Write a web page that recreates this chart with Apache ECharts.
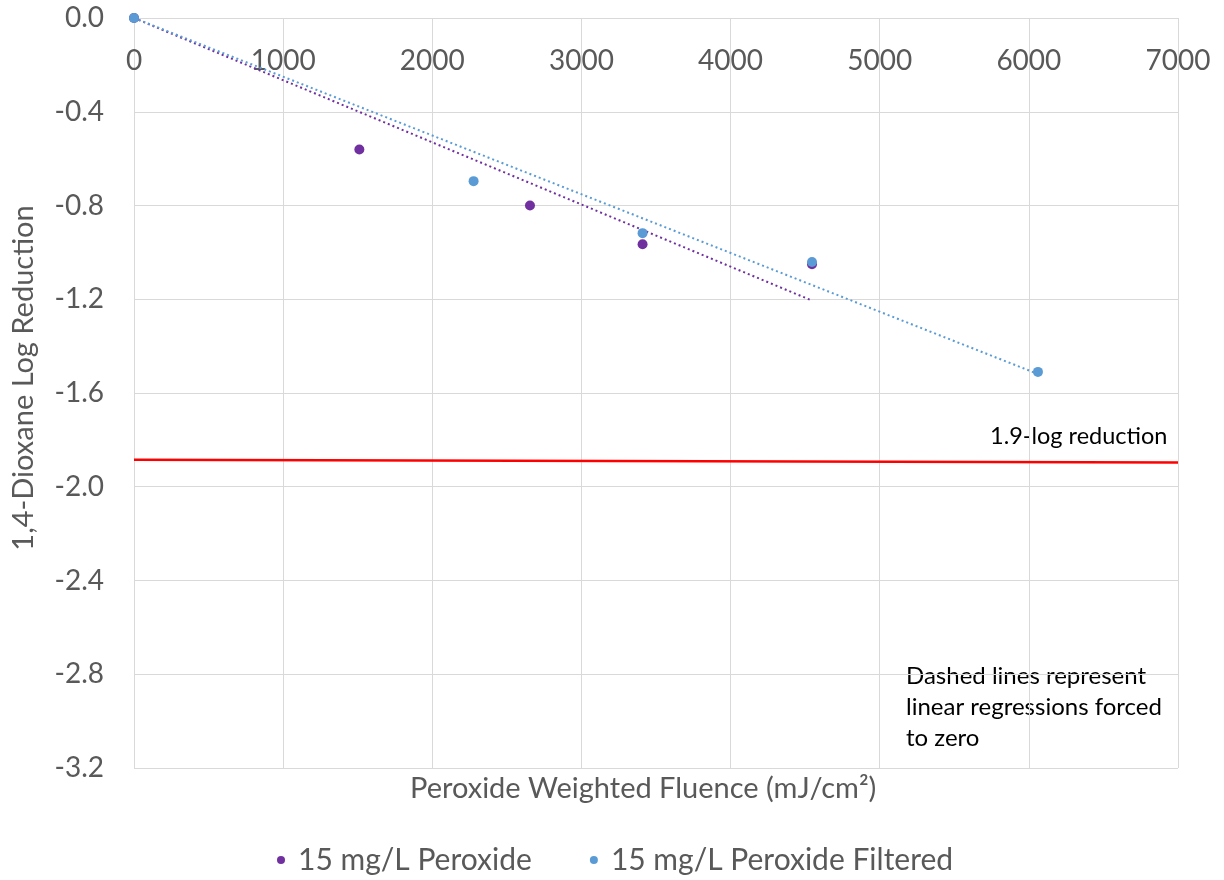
<!DOCTYPE html>
<html>
<head>
<meta charset="utf-8">
<title>1,4-Dioxane Log Reduction vs Peroxide Weighted Fluence</title>
<script src="https://cdn.jsdelivr.net/npm/echarts@6/dist/echarts.min.js"></script>
<style>
  html, body { margin: 0; padding: 0; background: #ffffff; }
  #chart { width: 1224px; height: 880px; }
</style>
</head>
<body>
<div id="chart"></div>
<script>
// Measured log reduction of 1,4-dioxane against peroxide-weighted fluence (mJ/cm²)
const peroxideFluence  = [0, 1511, 2655, 3410, 4546];
const peroxideLogRed   = [0, -0.561, -0.800, -0.965, -1.051];
const filteredFluence  = [0, 2277, 3410, 4546, 6061];
const filteredLogRed   = [0, -0.696, -0.918, -1.041, -1.510];

// 1.9-log reduction target line (end points)
const targetFluence = [0, 7000];
const targetLogRed  = [-1.885, -1.896];

const xTicks = { min: 0, max: 7000, interval: 1000 };
const yTicks = { min: -3.2, max: 0, interval: 0.4 };

const seriesNames = ['15 mg/L Peroxide', '15 mg/L Peroxide Filtered'];
const purple = '#7030A0';
const blue = '#5B9BD5';
const FONT = 'Lato';

function pairs(xs, ys) { return xs.map((x, i) => [x, ys[i]]); }

// Least-squares slope of a line forced through the origin
function slopeThroughZero(xs, ys) {
  let sxy = 0, sxx = 0;
  xs.forEach((x, i) => { sxy += x * ys[i]; sxx += x * x; });
  return sxy / sxx;
}
function trend(xs, ys) {
  const k = slopeThroughZero(xs, ys);
  const xMax = Math.max(...xs);
  return [[0, 0], [xMax, k * xMax]];
}

const chart = echarts.init(document.getElementById('chart'), null, { renderer: 'canvas' });

chart.setOption({
  animation: false,
  backgroundColor: '#ffffff',
  grid: { left: 134, right: 46, top: 18, bottom: 112, containLabel: false },
  xAxis: {
    type: 'value',
    position: 'top',
    min: xTicks.min, max: xTicks.max, interval: xTicks.interval,
    axisLine: { show: true, onZero: false, lineStyle: { color: '#d9d9d9', width: 1 } },
    axisTick: { show: false },
    axisLabel: {
      inside: true, color: '#595959', fontFamily: FONT, fontSize: 28, margin: 29,
      formatter: v => String(v)
    },
    splitLine: { show: true, lineStyle: { color: '#d9d9d9', width: 1 } }
  },
  yAxis: {
    type: 'value',
    min: yTicks.min, max: yTicks.max, interval: yTicks.interval,
    axisLine: { show: true, onZero: false, lineStyle: { color: '#d9d9d9', width: 1 } },
    axisTick: { show: false },
    axisLabel: {
      color: '#595959', fontFamily: FONT, fontSize: 28, margin: 30,
      formatter: v => v.toFixed(1)
    },
    splitLine: { show: true, lineStyle: { color: '#d9d9d9', width: 1 } }
  },
  legend: {
    data: seriesNames,
    top: 840,
    left: 272,
    icon: 'circle',
    itemWidth: 8,
    itemHeight: 8,
    itemGap: 58,
    textStyle: { color: '#595959', fontFamily: FONT, fontSize: 30, padding: [0, 0, 0, 8] }
  },
  graphic: [
    {
      // y-axis title
      type: 'text', x: 24, y: 378, rotation: Math.PI / 2,
      style: {
        text: '1,4-Dioxane Log Reduction', fill: '#595959', font: '29px ' + FONT,
        align: 'center', verticalAlign: 'middle'
      }
    },
    {
      // x-axis title
      type: 'text', left: 410, top: 774,
      style: { text: 'Peroxide Weighted Fluence (mJ/cm²)', fill: '#595959', font: '29px ' + FONT }
    },
    {
      type: 'text', left: 990, top: 424,
      style: { text: '1.9-log reduction', fill: '#000000', font: '23.5px ' + FONT }
    },
    {
      type: 'text', left: 906, top: 661,
      style: {
        text: 'Dashed lines represent\nlinear regressions forced\nto zero',
        fill: '#000000', font: '24px ' + FONT, lineHeight: 31
      }
    }
  ],
  series: [
    {
      name: 'target', type: 'line', data: pairs(targetFluence, targetLogRed),
      showSymbol: false, silent: true,
      lineStyle: { color: '#ff0000', width: 2.5 }, z: 2
    },
    {
      name: 'fit-peroxide', type: 'line', data: trend(peroxideFluence, peroxideLogRed),
      showSymbol: false, silent: true,
      lineStyle: { color: purple, width: 2, type: [2, 3] }, z: 3
    },
    {
      name: 'fit-filtered', type: 'line', data: trend(filteredFluence, filteredLogRed),
      showSymbol: false, silent: true,
      lineStyle: { color: blue, width: 2, type: [2, 3] }, z: 3
    },
    {
      name: seriesNames[0], type: 'scatter', data: pairs(peroxideFluence, peroxideLogRed),
      symbol: 'circle', symbolSize: 10, itemStyle: { color: purple, opacity: 1 }, z: 4
    },
    {
      name: seriesNames[1], type: 'scatter', data: pairs(filteredFluence, filteredLogRed),
      symbol: 'circle', symbolSize: 10, itemStyle: { color: blue, opacity: 1 }, z: 5
    }
  ]
});
</script>
</body>
</html>
